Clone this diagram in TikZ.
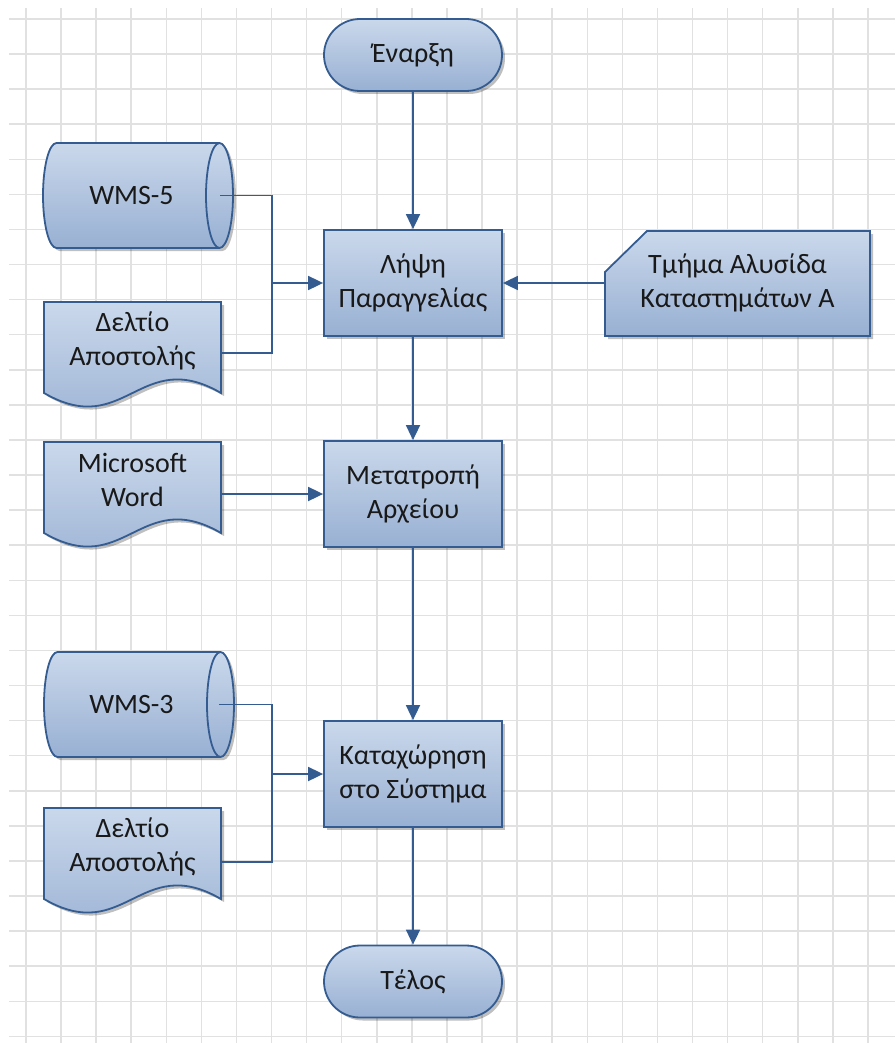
\documentclass[tikz,border=0pt]{standalone}
\usepackage{fontspec}
\setmainfont{Carlito}
\usetikzlibrary{shadows,arrows.meta,calc}

\definecolor{gridgray}{RGB}{225,225,225}
\definecolor{edgeblue}{RGB}{52,92,145}
\definecolor{fillhi}{RGB}{202,216,235}
\definecolor{filllo}{RGB}{152,176,211}
\definecolor{inkblack}{RGB}{25,25,25}

\tikzset{
  gridline/.style={draw=gridgray, line width=1.5pt},
  shapefill/.style={top color=fillhi, bottom color=filllo, draw=edgeblue, line width=1.8pt,
    drop shadow={shadow xshift=3pt, shadow yshift=-3pt, fill=black, opacity=0.25}},
  outline/.style={draw=edgeblue, line width=1.8pt},
  txt/.style={text=inkblack, font=\fontsize{28}{34}\selectfont, align=center, inner sep=0pt},
  procbox/.style={shapefill, txt, rectangle, minimum width=178pt, minimum height=106pt},
  termbox/.style={procbox, rounded corners=36pt, minimum height=72pt},
  link/.style={draw=edgeblue, line width=1.8pt},
  flow/.style={link, -{Triangle[length=15pt, width=14pt]}},
  drum/.pic={
    \path[shapefill] (13.5,0) -- (176.5,0)
      arc[start angle=-90, end angle=90, x radius=13.5, y radius=52.5]
      -- (13.5,105)
      arc[start angle=90, end angle=270, x radius=13.5, y radius=52.5] -- cycle;
    \path[outline] (176.5,0)
      arc[start angle=-90, end angle=-270, x radius=13.5, y radius=52.5];
  },
  docsheet/.pic={
    \path[shapefill] (0,0) -- (177,0) -- (177,91)
      .. controls (96,44) and (81,138) .. (0,91) -- cycle;
  },
}

\begin{document}
\begin{tikzpicture}[x=1pt, y=-1pt]
  \useasboundingbox (0,0) rectangle (895,1043);
  \fill[white] (0,0) rectangle (895,1043);

  % background grid
  \foreach \k in {0,...,24} \draw[gridline] (26+35.08*\k,8) -- (26+35.08*\k,1043);
  \foreach \k in {0,...,29} \draw[gridline] (9,19+35.08*\k) -- (895,19+35.08*\k);

  % outlines of the data, document and manual-input symbols
  \pic at (43,143) {drum};
  \pic at (44,652) {drum};
  \pic at (44,302) {docsheet};
  \pic at (44,442) {docsheet};
  \pic at (44,808) {docsheet};
  \path[shapefill] (647,231) -- (870,231) -- (870,336) -- (605,336) -- (605,272) -- cycle;

  % main flow
  \node[termbox] (start) at (413,55) {Έναρξη};
  \node[procbox] (order) at (413,283) {Λήψη\\Παραγγελίας};
  \node[procbox] (convert) at (413,494) {Μετατροπή\\Αρχείου};
  \node[procbox] (record) at (413,774) {Καταχώρηση\\στο Σύστημα};
  \node[termbox] (finish) at (413,981.5) {Τέλος};

  % inputs
  \node[txt, minimum width=265pt, minimum height=105pt] (stores) at (737.5,283) {Τμήμα Αλυσίδα\\Καταστημάτων Α};
  \node[txt, minimum width=177pt, minimum height=105pt] (wmsfive) at (131.5,195.5) {WMS-5};
  \node[txt, minimum width=177pt] (slipA) at (132.5,341) {Δελτίο\\Αποστολής};
  \node[txt, minimum width=177pt] (word) at (132.5,480) {Microsoft\\Word};
  \node[txt, minimum width=175pt, minimum height=105pt] (wmsthree) at (131.5,704.5) {WMS-3};
  \node[txt, minimum width=177pt] (slipB) at (132.5,847) {Δελτίο\\Αποστολής};

  % connectors
  \draw[flow] (start) -- (order);
  \draw[flow] (order) -- (convert);
  \draw[flow] (convert) -- (record);
  \draw[flow] (record) -- (finish);
  \draw[flow] (stores.west) -- (order.east);

  \coordinate (joinA) at ($(order.west)+(-51,0)$);
  \draw[link] (wmsfive.east) -| (joinA);
  \draw[link] ([yshift=-12pt]slipA.east) -| (joinA);
  \draw[flow] (joinA) -- (order.west);

  \draw[flow] (word.east |- convert.west) -- (convert.west);

  \coordinate (joinB) at ($(record.west)+(-51,0)$);
  \draw[link] (wmsthree.east) -| (joinB);
  \draw[link] ([yshift=-15pt]slipB.east) -| (joinB);
  \draw[flow] (joinB) -- (record.west);
\end{tikzpicture}
\end{document}
